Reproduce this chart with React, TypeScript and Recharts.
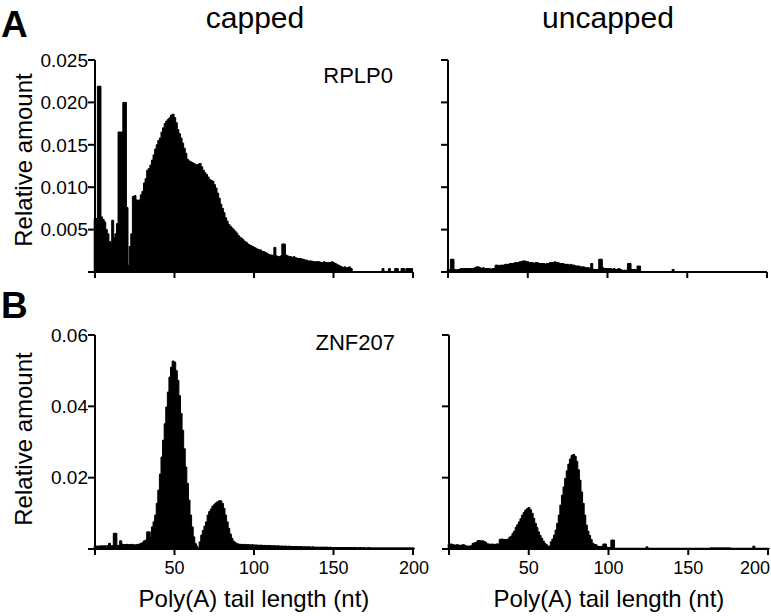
import React from 'react';
import { BarChart, Bar, XAxis, YAxis } from 'recharts';

// Poly(A) tail length categories (nt)
const lengths: number[] = Array.from({ length: 201 }, (_, i) => i);

// RPLP0, capped
const rplp0Capped: number[] = [
  0.0063, 0.0063, 0.0219, 0.0219, 0.0065, 0.0062, 0.0059, 0.0050, 0.0045, 0.0036,
  0.0034, 0.0061, 0.0040, 0.0045, 0.0057, 0.0165, 0.0165, 0.0165, 0.0200, 0.0200,
  0.0076, 0.0008, 0.0030, 0.0045, 0.0089, 0.0090, 0.0085, 0.0083, 0.0085, 0.0091,
  0.0095, 0.0105, 0.0110, 0.0120, 0.0122, 0.0126, 0.0132, 0.0138, 0.0145, 0.0150,
  0.0155, 0.0158, 0.0165, 0.0170, 0.0175, 0.0178, 0.0180, 0.0182, 0.0185, 0.0186,
  0.0182, 0.0176, 0.0168, 0.0163, 0.0158, 0.0152, 0.0146, 0.0140, 0.0133, 0.0131,
  0.0130, 0.0129, 0.0128, 0.0127, 0.0126, 0.0127, 0.0128, 0.0124, 0.0120, 0.0117,
  0.0115, 0.0112, 0.0109, 0.0108, 0.0107, 0.0103, 0.0099, 0.0093, 0.0087, 0.0080,
  0.0075, 0.0070, 0.0064, 0.0060, 0.0056, 0.0054, 0.0052, 0.0050, 0.0048, 0.0046,
  0.0043, 0.0041, 0.0040, 0.0038, 0.0036, 0.0035, 0.0033, 0.0032, 0.0031, 0.0030,
  0.0029, 0.0028, 0.0027, 0.0026, 0.0026, 0.0024, 0.0024, 0.0023, 0.0022, 0.0021,
  0.0020, 0.0020, 0.0019, 0.0029, 0.0019, 0.0018, 0.0018, 0.0019, 0.0033, 0.0033,
  0.0020, 0.0019, 0.0018, 0.0018, 0.0017, 0.0018, 0.0017, 0.0016, 0.0016, 0.0016,
  0.0015, 0.0015, 0.0014, 0.0014, 0.0013, 0.0013, 0.0013, 0.0012, 0.0012, 0.0012,
  0.0012, 0.0012, 0.0011, 0.0011, 0.0012, 0.0011, 0.0011, 0.0011, 0.0011, 0.0012,
  0.0011, 0.0010, 0.0009, 0.0008, 0.0007, 0.0006, 0.0005, 0.0006, 0.0005, 0.0005,
  0.0006, 0.0004, 0, 0, 0, 0, 0, 0, 0, 0,
  0, 0, 0, 0, 0, 0, 0, 0, 0, 0,
  0, 0.0004, 0, 0, 0, 0.0004, 0, 0, 0, 0.0004,
  0.0004, 0, 0, 0.0004, 0.0004, 0, 0.0004, 0.0004, 0.0004, 0.0004,
  0,
];

// RPLP0, uncapped
const rplp0Uncapped: number[] = [
  0.0003, 0.0003, 0.0015, 0.0015, 0.0003, 0.0002, 0.0003, 0.0003, 0.0004, 0.0004,
  0.0004, 0.0004, 0.0004, 0.0004, 0.0004, 0.0004, 0.0004, 0.0005, 0.0006, 0.0006,
  0.0005, 0.0004, 0.0005, 0.0004, 0.0004, 0.0004, 0.0004, 0.0003, 0.0004, 0.0004,
  0.0008, 0.0008, 0.0007, 0.0008, 0.0008, 0.0008, 0.0009, 0.0009, 0.0009, 0.0010,
  0.0010, 0.0010, 0.0011, 0.0011, 0.0011, 0.0012, 0.0012, 0.0013, 0.0013, 0.0012,
  0.0012, 0.0011, 0.0011, 0.0011, 0.0010, 0.0011, 0.0011, 0.0010, 0.0010, 0.0010,
  0.0010, 0.0009, 0.0010, 0.0010, 0.0011, 0.0011, 0.0011, 0.0012, 0.0011, 0.0011,
  0.0010, 0.0010, 0.0010, 0.0009, 0.0009, 0.0009, 0.0008, 0.0009, 0.0008, 0.0008,
  0.0007, 0.0007, 0.0007, 0.0006, 0.0006, 0.0006, 0.0005, 0.0005, 0.0005, 0.0004,
  0.0010, 0.0003, 0.0003, 0.0003, 0.0003, 0.0015, 0.0015, 0.0005, 0.0004, 0.0004,
  0.0004, 0.0004, 0.0004, 0.0003, 0.0004, 0.0003, 0.0003, 0.0004, 0.0003, 0.0002,
  0.0002, 0.0002, 0.0002, 0.0010, 0.0010, 0.0003, 0.0003, 0.0003, 0.0002, 0.0007,
  0.0007, 0, 0, 0, 0, 0, 0, 0, 0, 0,
  0, 0, 0, 0, 0, 0, 0, 0, 0, 0,
  0, 0.0003, 0, 0, 0, 0, 0, 0, 0, 0,
  0, 0, 0, 0, 0, 0, 0, 0, 0, 0,
  0, 0, 0, 0, 0, 0, 0, 0, 0, 0,
  0, 0, 0, 0, 0, 0, 0, 0, 0, 0,
  0, 0, 0, 0, 0, 0, 0, 0, 0, 0,
  0, 0, 0, 0, 0, 0, 0, 0, 0, 0,
  0,
];

// ZNF207, capped
const znf207Capped: number[] = [
  0.0008, 0.0008, 0.0008, 0.0008, 0.0009, 0.0008, 0.0009, 0.0008, 0.0010, 0.0016,
  0.0009, 0.0009, 0.0044, 0.0044, 0.0010, 0.0010, 0.0023, 0.0014, 0.0012, 0.0012,
  0.0013, 0.0012, 0.0012, 0.0013, 0.0012, 0.0011, 0.0012, 0.0013, 0.0014, 0.0016,
  0.0018, 0.0023, 0.0025, 0.0048, 0.0048, 0.0033, 0.0062, 0.0076, 0.0095, 0.0128,
  0.0165, 0.0210, 0.0258, 0.0305, 0.0351, 0.0398, 0.0440, 0.0482, 0.0510, 0.0527,
  0.0524, 0.0500, 0.0473, 0.0430, 0.0380, 0.0333, 0.0281, 0.0230, 0.0184, 0.0137,
  0.0095, 0.0062, 0.0034, 0.0015, 0.0008, 0.0002, 0.0020, 0.0039, 0.0052, 0.0064,
  0.0076, 0.0095, 0.0105, 0.0112, 0.0120, 0.0124, 0.0129, 0.0132, 0.0135, 0.0135,
  0.0128, 0.0114, 0.0095, 0.0076, 0.0058, 0.0042, 0.0030, 0.0022, 0.0018, 0.0015,
  0.0014, 0.0013, 0.0013, 0.0012, 0.0013, 0.0012, 0.0012, 0.0012, 0.0011, 0.0012,
  0.0011, 0.0011, 0.0011, 0.0010, 0.0011, 0.0010, 0.0010, 0.0010, 0.0009, 0.0010,
  0.0009, 0.0009, 0.0009, 0.0009, 0.0008, 0.0009, 0.0008, 0.0008, 0.0008, 0.0008,
  0.0008, 0.0007, 0.0008, 0.0007, 0.0007, 0.0007, 0.0007, 0.0007, 0.0006, 0.0007,
  0.0006, 0.0006, 0.0006, 0.0006, 0.0006, 0.0006, 0.0005, 0.0006, 0.0005, 0.0005,
  0.0005, 0.0005, 0.0005, 0.0005, 0.0005, 0.0005, 0.0005, 0.0004, 0.0005, 0.0004,
  0.0004, 0.0004, 0.0004, 0.0004, 0.0004, 0.0004, 0.0004, 0.0004, 0.0004, 0.0004,
  0.0004, 0.0004, 0.0004, 0.0004, 0.0004, 0.0003, 0.0004, 0.0004, 0.0003, 0.0004,
  0.0003, 0.0003, 0.0004, 0.0003, 0.0003, 0.0003, 0.0003, 0.0003, 0.0003, 0.0003,
  0.0003, 0.0003, 0.0003, 0.0003, 0.0003, 0.0003, 0.0003, 0.0003, 0.0003, 0.0003,
  0.0003, 0.0003, 0.0003, 0.0003, 0.0003, 0.0003, 0.0003, 0.0003, 0.0003, 0.0003,
  0.0003,
];

// ZNF207, uncapped
const znf207Uncapped: number[] = [
  0.0014, 0.0014, 0.0013, 0.0011, 0.0011, 0.0012, 0.0011, 0.0010, 0.0011, 0.0012,
  0.0010, 0.0008, 0.0008, 0.0008, 0.0009, 0.0016, 0.0017, 0.0018, 0.0023, 0.0024,
  0.0022, 0.0023, 0.0021, 0.0018, 0.0014, 0.0014, 0.0013, 0.0014, 0.0013, 0.0013,
  0.0014, 0.0014, 0.0027, 0.0028, 0.0027, 0.0026, 0.0027, 0.0027, 0.0033, 0.0036,
  0.0044, 0.0050, 0.0061, 0.0068, 0.0076, 0.0085, 0.0095, 0.0102, 0.0109, 0.0113,
  0.0116, 0.0110, 0.0100, 0.0086, 0.0072, 0.0060, 0.0048, 0.0038, 0.0030, 0.0022,
  0.0016, 0.0012, 0.0008, 0.0008, 0.0020, 0.0028, 0.0039, 0.0053, 0.0072, 0.0095,
  0.0123, 0.0151, 0.0174, 0.0198, 0.0219, 0.0238, 0.0252, 0.0262, 0.0265, 0.0260,
  0.0246, 0.0222, 0.0193, 0.0160, 0.0128, 0.0095, 0.0067, 0.0050, 0.0038, 0.0027,
  0.0016, 0.0013, 0.0012, 0.0008, 0.0007, 0.0007, 0.0008, 0.0014, 0.0014, 0.0005,
  0.0004, 0.0004, 0.0025, 0.0025, 0.0002, 0.0002, 0.0002, 0.0002, 0.0002, 0.0002,
  0.0002, 0.0002, 0.0002, 0.0002, 0.0002, 0.0002, 0.0002, 0.0002, 0.0002, 0.0002,
  0.0002, 0.0002, 0.0002, 0.0002, 0.0006, 0.0002, 0.0002, 0.0002, 0.0002, 0.0002,
  0.0002, 0.0002, 0.0002, 0.0002, 0.0002, 0.0002, 0.0002, 0.0002, 0.0002, 0.0002,
  0.0002, 0.0002, 0.0002, 0.0002, 0.0002, 0.0002, 0.0002, 0.0002, 0.0002, 0.0002,
  0.0002, 0.0002, 0.0002, 0.0002, 0.0002, 0.0002, 0.0002, 0.0002, 0.0002, 0.0002,
  0.0002, 0.0002, 0.0002, 0.0002, 0.0003, 0.0003, 0.0003, 0.0003, 0.0003, 0.0003,
  0.0003, 0.0003, 0.0003, 0.0003, 0.0003, 0.0003, 0.0003, 0.0002, 0.0002, 0.0002,
  0.0002, 0.0002, 0.0002, 0.0002, 0.0002, 0.0002, 0.0002, 0.0002, 0.0002, 0.0002,
  0.0002, 0.0008, 0.0002, 0.0002, 0.0002, 0.0002, 0.0002, 0.0002, 0.0002, 0.0002,
  0.0002,
];

const xTicks: number[] = [0, 50, 100, 150, 200];
const yTicksA: number[] = [0, 0.005, 0.01, 0.015, 0.02, 0.025];
const yTicksB: number[] = [0, 0.02, 0.04, 0.06];

const FONT = '"Liberation Sans", Arial, Helvetica, sans-serif';

type PanelProps = {
  values: number[];
  left: number;
  top: number;
  width: number;
  height: number;
  yMax: number;
  yTicks: number[];
  yDigits: number;
  showYLabels: boolean;
  showXLabels: boolean;
  yAxisWidth: number;
  xAxisHeight: number;
  marginTop: number;
  marginRight: number;
};

function Panel(p: PanelProps) {
  const data = lengths.map((len, i) => ({ len, v: p.values[i] }));
  const XTick = (props: any) => {
    const { x, y, payload } = props;
    const v = payload?.value;
    if (!p.showXLabels || v === 0) return null;
    const label = String(v);
    const halfW = label.length * 5;
    const tooFar = x + halfW + 6 > p.width;
    return (
      <text
        x={tooFar ? p.width - 1 : x}
        y={y}
        dy="0.71em"
        textAnchor={tooFar ? 'end' : 'middle'}
        fontSize={18}
        fontFamily={FONT}
        fill="#000"
      >
        {label}
      </text>
    );
  };
  return (
    <div style={{ position: 'absolute', left: p.left, top: p.top }}>
      <BarChart
        width={p.width}
        height={p.height}
        data={data}
        margin={{ top: p.marginTop, right: p.marginRight, bottom: 0, left: 0 }}
        barCategoryGap={0}
        barGap={0}
      >
        <XAxis
          dataKey="len"
          type="number"
          domain={[0, 200]}
          ticks={xTicks}
          interval={0}
          height={p.xAxisHeight}
          axisLine={{ stroke: '#000', strokeWidth: 2 }}
          tickLine={{ stroke: '#000', strokeWidth: 2 }}
          tickSize={6}
          tickMargin={6}
          tick={<XTick />}
        />
        <YAxis
          type="number"
          domain={[0, p.yMax]}
          ticks={p.yTicks}
          interval={0}
          width={p.yAxisWidth}
          axisLine={{ stroke: '#000', strokeWidth: 2 }}
          tickLine={{ stroke: '#000', strokeWidth: 2 }}
          tickSize={7}
          tickMargin={0}
          tick={{ fill: '#000', fontSize: 19, fontFamily: FONT }}
          tickFormatter={(v: number) => (p.showYLabels && v !== 0 ? v.toFixed(p.yDigits) : '')}
        />
        <Bar dataKey="v" fill="#000" stroke="#000" strokeWidth={1} isAnimationActive={false} />
      </BarChart>
    </div>
  );
}

export default function App() {
  return (
    <div style={{ position: 'absolute', left: 0, top: 0, width: 771, height: 616, background: '#fff', overflow: 'hidden' }}>
      <Panel values={rplp0Capped} left={0} top={40} width={430} height={250} yMax={0.025} yTicks={yTicksA} yDigits={3}
        showYLabels={true} showXLabels={false} yAxisWidth={95} xAxisHeight={18} marginTop={20} marginRight={17} />
      <Panel values={rplp0Uncapped} left={380} top={40} width={391} height={250} yMax={0.025} yTicks={yTicksA} yDigits={3}
        showYLabels={false} showXLabels={false} yAxisWidth={68} xAxisHeight={18} marginTop={20} marginRight={4} />
      <Panel values={znf207Capped} left={0} top={315} width={430} height={284} yMax={0.06} yTicks={yTicksB} yDigits={2}
        showYLabels={true} showXLabels={true} yAxisWidth={95} xAxisHeight={50} marginTop={20} marginRight={17} />
      <Panel values={znf207Uncapped} left={380} top={315} width={391} height={284} yMax={0.06} yTicks={yTicksB} yDigits={2}
        showYLabels={false} showXLabels={true} yAxisWidth={69} xAxisHeight={50} marginTop={20} marginRight={3} />
      <svg width={771} height={616} style={{ position: 'absolute', left: 0, top: 0, pointerEvents: 'none' }}
        fontFamily={FONT} fill="#000">
        <text x={1} y={37} fontSize={37} fontWeight="bold">A</text>
        <text x={1} y={318} fontSize={37} fontWeight="bold">B</text>
        <text x={255} y={28} fontSize={30} textAnchor="middle">capped</text>
        <text x={608} y={28} fontSize={30} textAnchor="middle">uncapped</text>
        <text x={393} y={83} fontSize={22} textAnchor="end">RPLP0</text>
        <text x={395} y={350} fontSize={22} textAnchor="end">ZNF207</text>
        <text transform="translate(32,160) rotate(-90)" fontSize={24} textAnchor="middle">Relative amount</text>
        <text transform="translate(32,439) rotate(-90)" fontSize={24} textAnchor="middle">Relative amount</text>
        <text x={254} y={607} fontSize={24} textAnchor="middle">Poly(A) tail length (nt)</text>
        <text x={609} y={607} fontSize={24} textAnchor="middle">Poly(A) tail length (nt)</text>
      </svg>
    </div>
  );
}
